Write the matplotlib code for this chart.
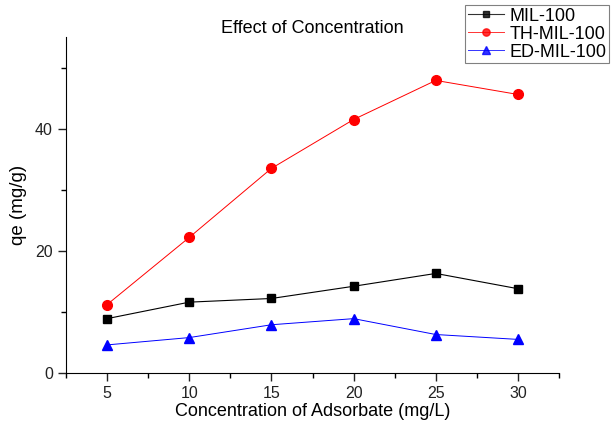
import matplotlib
matplotlib.use("Agg")
import matplotlib.pyplot as plt
from matplotlib.ticker import MultipleLocator, AutoMinorLocator

plt.rcParams['font.family'] = ['Liberation Sans', 'DejaVu Sans']

conc = [5, 10, 15, 20, 25, 30]
mil100 = [8.9, 11.6, 12.2, 14.2, 16.3, 13.8]
th_mil100 = [11.2, 22.2, 33.5, 41.5, 47.9, 45.6]
ed_mil100 = [4.6, 5.8, 7.9, 8.9, 6.3, 5.5]

fig = plt.figure(figsize=(6.11, 4.21), dpi=100)
ax = fig.add_axes([0.108, 0.114, 0.807, 0.798])

ax.plot(conc, mil100, color='black', lw=0.8, marker='s', ms=6, label='MIL-100')
ax.plot(conc, th_mil100, color='red', lw=0.7, marker='o', ms=7, label='TH-MIL-100')
ax.plot(conc, ed_mil100, color='blue', lw=0.7, marker='^', ms=7, label='ED-MIL-100')

ax.set_xlim(2.5, 32.5)
ax.set_ylim(0, 55)
ax.xaxis.set_major_locator(MultipleLocator(5))
ax.xaxis.set_minor_locator(AutoMinorLocator(2))
ax.yaxis.set_major_locator(MultipleLocator(20))
ax.yaxis.set_minor_locator(AutoMinorLocator(2))

for side in ['top', 'right']:
    ax.spines[side].set_visible(False)
ax.tick_params(which='major', length=6, width=1, labelsize=11.5, colors='#222222')
ax.tick_params(which='minor', length=3.5, width=1)

ax.set_xlabel('Concentration of Adsorbate (mg/L)', fontsize=13, labelpad=1)
ax.set_ylabel('qe (mg/g)', fontsize=13.5, labelpad=6)
ax.set_title('Effect of Concentration', fontsize=13, pad=1)

leg = fig.legend(loc='upper right', bbox_to_anchor=(0.997, 0.988), fontsize=13,
                 fancybox=False, edgecolor='gray', framealpha=1,
                 borderpad=0.15, labelspacing=0.05, handlelength=2.0,
                 handletextpad=0.3, borderaxespad=0, markerscale=0.75)
leg.get_frame().set_linewidth(0.8)
for h in leg.legend_handles:
    h.set_alpha(0.8)

fig.savefig('out.png', dpi=100)
